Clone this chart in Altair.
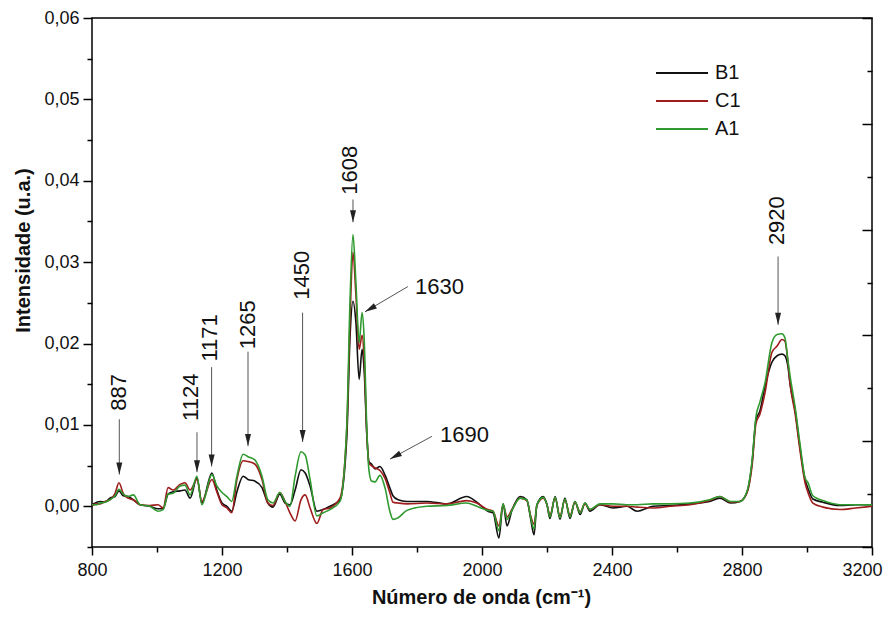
import altair as alt
import pandas as pd

# ---------------- data ----------------
WAVENUMBER = [800, 815, 825, 840, 855, 871, 883, 896, 911, 927, 948, 978, 1003, 1019, 1034, 1050,
              1071, 1086, 1102, 1123, 1138, 1169, 1184, 1200, 1215, 1230, 1246, 1265, 1280, 1301,
              1323, 1341, 1357, 1378, 1394, 1409, 1425, 1443, 1456, 1471, 1492, 1511, 1532, 1563,
              1584, 1594, 1603, 1612, 1622, 1631, 1637, 1646, 1652, 1660, 1671, 1686, 1702, 1717,
              1726, 1742, 1769, 1830, 1892, 1953, 1984, 2018, 2034, 2052, 2065, 2077, 2092, 2117,
              2138, 2150, 2160, 2169, 2188, 2200, 2209, 2225, 2240, 2255, 2271, 2286, 2302, 2317,
              2332, 2363, 2403, 2446, 2477, 2526, 2580, 2640, 2700, 2732, 2765, 2794, 2815, 2831,
              2843, 2855, 2871, 2892, 2908, 2923, 2932, 2942, 2948, 2963, 2978, 2994, 3003, 3018,
              3049, 3101, 3150, 3200]

B1 = [0.0002, 0.0005, 0.0006, 0.0005, 0.0010, 0.0012, 0.0019, 0.0013, 0.0012, 0.0008, 0.0002, 0.0000,
      -0.0003, -0.0003, 0.0015, 0.0018, 0.0019, 0.0020, 0.0010, 0.0035, 0.0004, 0.0041, 0.0020, 0.0004,
      0.0000, -0.0006, 0.0018, 0.0037, 0.0033, 0.0031, 0.0023, 0.0004, -0.0001, 0.0015, 0.0004, 0.0002,
      0.0020, 0.0045, 0.0041, 0.0025, -0.0006, -0.0004, 0.0000, 0.0008, 0.0085, 0.0209, 0.0252, 0.0226,
      0.0156, 0.0193, 0.0170, 0.0085, 0.0055, 0.0052, 0.0046, 0.0049, 0.0038, 0.0022, 0.0013, 0.0008,
      0.0006, 0.0006, 0.0003, 0.0012, 0.0005, -0.0006, -0.0008, -0.0039, 0.0003, -0.0024, -0.0005, 0.0012,
      0.0008, -0.0016, -0.0035, 0.0002, 0.0012, 0.0002, -0.0015, 0.0012, -0.0016, 0.0010, -0.0015, 0.0006,
      -0.0010, 0.0004, -0.0006, 0.0002, -0.0002, 0.0000, -0.0006, 0.0000, 0.0001, 0.0003, 0.0006, 0.0010,
      0.0004, 0.0006, 0.0017, 0.0054, 0.0106, 0.0117, 0.0148, 0.0177, 0.0185, 0.0187, 0.0185, 0.0170,
      0.0150, 0.0119, 0.0074, 0.0033, 0.0022, 0.0009, 0.0005, 0.0001, 0.0002, 0.0002]

C1 = [0.0001, 0.0003, 0.0003, 0.0006, 0.0008, 0.0016, 0.0029, 0.0016, 0.0010, 0.0008, 0.0002, 0.0001,
      0.0002, -0.0002, 0.0023, 0.0020, 0.0027, 0.0029, 0.0020, 0.0033, 0.0006, 0.0033, 0.0018, 0.0002,
      -0.0002, -0.0008, 0.0033, 0.0056, 0.0055, 0.0052, 0.0033, 0.0004, 0.0001, 0.0017, 0.0006, -0.0008,
      -0.0018, 0.0008, 0.0014, -0.0002, -0.0021, -0.0004, -0.0002, 0.0010, 0.0095, 0.0230, 0.0312, 0.0260,
      0.0193, 0.0210, 0.0185, 0.0085, 0.0053, 0.0050, 0.0047, 0.0044, 0.0034, 0.0016, 0.0005, 0.0004,
      0.0003, 0.0004, 0.0003, 0.0007, 0.0004, -0.0004, -0.0006, -0.0024, 0.0002, -0.0013, -0.0004, 0.0010,
      0.0007, -0.0012, -0.0022, 0.0001, 0.0010, 0.0002, -0.0011, 0.0010, -0.0012, 0.0008, -0.0011, 0.0005,
      -0.0007, 0.0003, -0.0004, 0.0002, 0.0000, 0.0000, -0.0001, -0.0002, 0.0000, 0.0002, 0.0007, 0.0012,
      0.0005, 0.0006, 0.0016, 0.0050, 0.0102, 0.0113, 0.0140, 0.0189, 0.0197, 0.0205, 0.0203, 0.0175,
      0.0150, 0.0115, 0.0070, 0.0029, 0.0017, 0.0004, -0.0001, -0.0004, -0.0002, 0.0000]

A1 = [0.0002, 0.0002, 0.0004, 0.0005, 0.0008, 0.0013, 0.0021, 0.0015, 0.0012, 0.0014, 0.0002, 0.0000,
      -0.0006, -0.0004, 0.0015, 0.0016, 0.0025, 0.0026, 0.0014, 0.0037, 0.0002, 0.0039, 0.0025, 0.0017,
      0.0012, 0.0006, 0.0037, 0.0064, 0.0061, 0.0057, 0.0037, 0.0008, 0.0004, 0.0017, 0.0006, 0.0000,
      0.0037, 0.0067, 0.0063, 0.0033, -0.0012, -0.0008, -0.0004, 0.0006, 0.0100, 0.0254, 0.0334, 0.0275,
      0.0201, 0.0238, 0.0210, 0.0090, 0.0045, 0.0031, 0.0030, 0.0038, 0.0022, -0.0007, -0.0016, -0.0014,
      -0.0005, 0.0000, 0.0001, 0.0004, 0.0000, -0.0005, -0.0006, -0.0030, 0.0003, -0.0016, -0.0005, 0.0010,
      0.0008, -0.0014, -0.0028, 0.0002, 0.0011, 0.0002, -0.0013, 0.0011, -0.0014, 0.0009, -0.0013, 0.0006,
      -0.0008, 0.0004, -0.0004, 0.0003, 0.0003, 0.0002, 0.0002, 0.0003, 0.0003, 0.0004, 0.0008, 0.0012,
      0.0006, 0.0006, 0.0018, 0.0056, 0.0110, 0.0128, 0.0152, 0.0201, 0.0211, 0.0212, 0.0207, 0.0177,
      0.0160, 0.0123, 0.0078, 0.0035, 0.0029, 0.0013, 0.0007, 0.0002, 0.0002, 0.0002]

SERIES = ["B1", "C1", "A1"]
COLORS = ["#111111", "#9e1c1c", "#2f9a2f"]

# annotation arrows (start -> tip) and labels
ARROW_X0 = [884, 1123, 1168, 1280, 1448, 1603, 2911, 1772, 1846]
ARROW_Y0 = [0.0107, 0.0091, 0.0171, 0.0190, 0.0238, 0.0377, 0.0307, 0.0270, 0.0086]
ARROW_X1 = [884, 1123, 1168, 1280, 1448, 1603, 2911, 1640, 1717]
ARROW_Y1 = [0.0039, 0.0042, 0.0049, 0.0074, 0.0079, 0.0349, 0.0223, 0.0239, 0.0058]
ARROW_ANGLE = [0, 0, 0, 0, 0, 0, 0, 60, 61]

ROT_TEXT = ["887", "1124", "1171", "1265", "1450", "1608", "2920"]
ROT_X = [884, 1106, 1163, 1280, 1446, 1594, 2908]
ROT_Y = [0.0140, 0.0134, 0.0207, 0.0223, 0.0284, 0.0413, 0.0351]

HOR_TEXT = ["1630", "1690"]
HOR_X = [1794, 1871]
HOR_Y = [0.0270, 0.0088]

X_TICKS = list(range(800, 3201, 200))
Y_TICKS = [round(-0.005 + 0.005 * i, 3) for i in range(14)]
R_TICKS = [0.5 * i for i in range(11)]

FONT = "Liberation Sans"
X_DOMAIN = [800, 3200]
Y_DOMAIN = [-0.005, 0.06]

# ---------------- tables ----------------
rows = []
for name, vals in zip(SERIES, (B1, C1, A1)):
    assert len(vals) == len(WAVENUMBER), (name, len(vals))
    for w, v in zip(WAVENUMBER, vals):
        rows.append({"sample": name, "wn": w, "val": v})
spectra = pd.DataFrame(rows)

arrows = pd.DataFrame({"x0": ARROW_X0, "y0": ARROW_Y0, "x1": ARROW_X1, "y1": ARROW_Y1, "ang": ARROW_ANGLE})
rot_labels = pd.DataFrame({"t": ROT_TEXT, "x": ROT_X, "y": ROT_Y})
hor_labels = pd.DataFrame({"t": HOR_TEXT, "x": HOR_X, "y": HOR_Y})

# ---------------- axes ----------------
x_axis = alt.Axis(
    values=X_TICKS,
    labelExpr="datum.value % 400 == 0 ? format(datum.value, 'd') : ''",
    tickSize={"condition": {"test": "datum.value % 400 == 0", "value": 8}, "value": 5},
    labelOffset={"condition": {"test": "datum.value == 3200", "value": -10}, "value": 0},
    tickColor="black", tickWidth=1.5, domain=False, grid=False,
    labelFont=FONT, labelFontSize=18, labelColor="#111", labelPadding=6,
    labelFlush=False, labelOverlap=False,
    title="Número de onda (cm⁻¹)", titleFont=FONT, titleFontSize=20, titleFontWeight="bold",
    titleColor="#111", titleX=389, titleY=50, titleBaseline="middle", titleAlign="center",
)
y_axis = alt.Axis(
    values=Y_TICKS,
    labelExpr="abs(datum.value*100 - round(datum.value*100)) < 0.001 ? replace(format(datum.value, '.2f'), '.', ',') : ''",
    tickSize={"condition": {"test": "abs(datum.value*100 - round(datum.value*100)) < 0.001", "value": 9}, "value": 5},
    tickColor="black", tickWidth=1.5, domain=False, grid=False,
    labelFont=FONT, labelFontSize=18, labelColor="#111", labelPadding=4,
    labelFlush=False, labelOverlap=False,
    title="Intensidade (u.a.)", titleFont=FONT, titleFontSize=20, titleFontWeight="bold",
    titleColor="#111", titleX=-69, titleY=232, titleBaseline="middle", titleAlign="center", titleAngle=270,
)
xs = alt.Scale(domain=X_DOMAIN, nice=False, zero=False)
ys = alt.Scale(domain=Y_DOMAIN, nice=False, zero=False)

# ---------------- layers ----------------
lines = alt.Chart(spectra).mark_line(strokeWidth=1.6, interpolate="monotone").encode(
    x=alt.X("wn:Q", scale=xs, axis=x_axis),
    y=alt.Y("val:Q", scale=ys, axis=y_axis),
    color=alt.Color(
        "sample:N",
        scale=alt.Scale(domain=SERIES, range=COLORS),
        sort=SERIES,
        legend=alt.Legend(
            orient="none", legendX=579, legendY=44, title=None, padding=0,
            symbolType="M-2.6,0L2.6,0", symbolSize=400, symbolStrokeWidth=2,
            labelFont=FONT, labelFontSize=20, labelColor="#111", labelOffset=22,
            rowPadding=7,
        ),
    ),
    order=alt.Order("wn:Q"),
)

arrow_lines = alt.Chart(arrows).mark_rule(color="#555555", strokeWidth=1).encode(
    x=alt.X("x0:Q", scale=xs, axis=x_axis),
    y=alt.Y("y0:Q", scale=ys, axis=y_axis),
    x2="x1:Q",
    y2="y1:Q",
)

arrow_heads = alt.Chart(arrows).mark_point(
    shape="M-0.5,-2L0.5,-2L0,0Z", filled=True, color="#222222", opacity=1, size=144
).encode(
    x=alt.X("x1:Q", scale=xs, axis=x_axis),
    y=alt.Y("y1:Q", scale=ys, axis=y_axis),
    angle=alt.Angle("ang:Q", scale=None),
)

rot_text = alt.Chart(rot_labels).mark_text(
    angle=270, align="center", baseline="middle", font=FONT, fontSize=22, color="#111"
).encode(
    x=alt.X("x:Q", scale=xs, axis=x_axis),
    y=alt.Y("y:Q", scale=ys, axis=y_axis),
    text="t:N",
)

hor_text = alt.Chart(hor_labels).mark_text(
    align="left", baseline="middle", font=FONT, fontSize=22, color="#111"
).encode(
    x=alt.X("x:Q", scale=xs, axis=x_axis),
    y=alt.Y("y:Q", scale=ys, axis=y_axis),
    text="t:N",
)

main = alt.layer(lines, arrow_lines, arrow_heads, rot_text, hor_text)

right_dummy = alt.Chart(pd.DataFrame({"r": [0, 5]})).mark_point(opacity=0).encode(
    y=alt.Y(
        "r:Q",
        scale=alt.Scale(domain=[0, 5], nice=False, zero=False),
        axis=alt.Axis(
            orient="left", offset=-780, values=R_TICKS, labels=False, title="",
            tickSize={"condition": {"test": "datum.value % 1 == 0", "value": 10}, "value": 5},
            tickColor="black", tickWidth=1.5, domain=False, grid=False,
        ),
    )
)

chart = (
    alt.layer(main, right_dummy)
    .resolve_scale(y="independent")
    .properties(
        width=780, height=529,
        autosize=alt.AutoSizeParams(type="none"),
        padding={"left": 84, "top": 10, "right": 14, "bottom": 62},
        background="white",
    )
    .configure_view(stroke="black", strokeWidth=1.5)
)

chart.save("out.html", embed_options={"renderer": "svg", "actions": False})
